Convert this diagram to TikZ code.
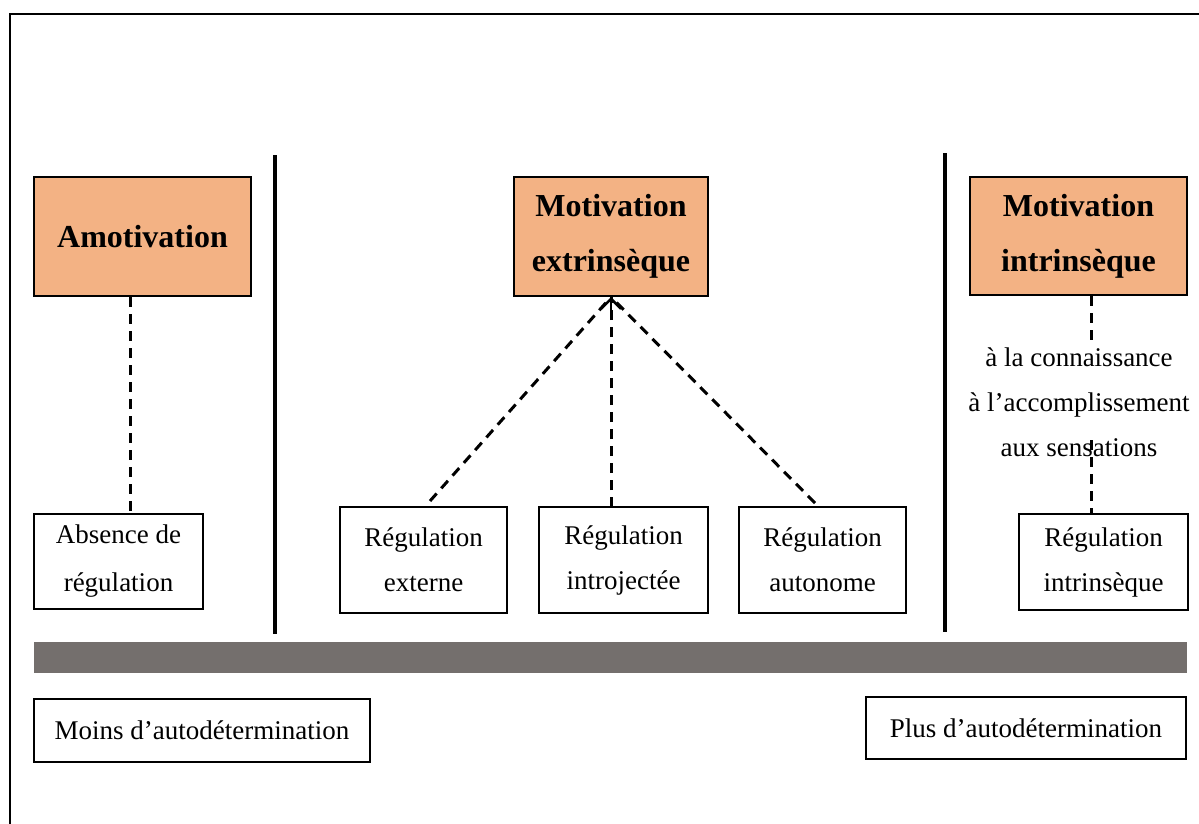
\documentclass[tikz,border=0pt]{standalone}
\usepackage{fontspec}
\setmainfont{Liberation Serif}
\usetikzlibrary{arrows.meta}
\definecolor{hdrfill}{RGB}{243,178,132}
\definecolor{barcol}{RGB}{116,111,109}
\tikzset{
  hdr/.style={draw=black, line width=2.6pt, fill=hdrfill, rectangle, align=center, inner sep=0pt,
    font=\fontsize{32}{55}\selectfont\bfseries},
  regbox/.style={draw=black, line width=2.6pt, fill=white, rectangle, align=center, inner sep=0pt,
    font=\fontsize{27}{45}\selectfont},
  plain/.style={align=center, inner sep=0pt, font=\fontsize{27}{45}\selectfont},
  dashline/.style={line width=3pt, dash pattern=on 10pt off 7pt},
  sepline/.style={line width=3.5pt},
}
\begin{document}
\begin{tikzpicture}[x=1pt,y=-1pt]
\useasboundingbox (0,0) rectangle (1199,824);
\path[clip] (0,0) rectangle (1199,824);
\fill[white] (0,0) rectangle (1199,824);
% outer frame
\draw[line width=2.6pt] (10,14) rectangle (1215,845);

% separators
\coordinate (s1t) at (275,155);
\coordinate (s1b) at (275,634);
\coordinate (s2t) at (945,153);
\coordinate (s2b) at (945,632);
\draw[sepline] (s1t) -- (s1b);
\draw[sepline] (s2t) -- (s2b);

% header boxes
\node[hdr, minimum width=217pt, minimum height=119pt] (amot) at (142.5,236.5) {Amotivation};
\node[hdr, minimum width=194pt, minimum height=119pt] (extr) at (611,236.5) {Motivation\\extrinsèque};
\node[hdr, minimum width=217pt, minimum height=118pt] (intr) at (1078.5,236) {Motivation\\intrinsèque};

% regulation boxes
\node[regbox, minimum width=169pt, minimum height=95pt] (absr) at (118.5,561.5) {\raisebox{-6pt}{\parbox{160pt}{\centering Absence de\\[3pt]régulation}}};
\node[regbox, minimum width=167pt, minimum height=106pt] (rext) at (423.5,560) {Régulation\\externe};
\node[regbox, minimum width=169pt, minimum height=106pt] (rint) at (623.5,560) {Régulation\\introjectée};
\node[regbox, minimum width=167pt, minimum height=106pt] (raut) at (822.5,560) {Régulation\\autonome};
\node[regbox, minimum width=169pt, minimum height=96pt] (rintr) at (1103.5,562) {Régulation\\intrinsèque};

% intrinsic text
\node[plain] (itext) at (1079,402) {à la connaissance\\à l’accomplissement\\aux sensations};

% connectors
\coordinate (ax) at (130,0);
\draw[dashline] (ax |- amot.south) -- (ax |- absr.north);

\coordinate (apex) at (611,297);
\coordinate (e1) at (430,501);
\coordinate (e2) at (611,507);
\coordinate (e3) at (815,503);
\draw[dashline] (e1) -- (apex);
\draw[dashline] (e3) -- (apex);
\draw[dashline] (e2) -- (apex);
\draw[line width=2.6pt, -{Straight Barb[length=10pt,width=20pt]}] (611,312) -- (apex);

\coordinate (ix) at (1091,0);
\coordinate (i1) at (1091,347);
\coordinate (i2) at (1091,440);
\draw[dashline] (ix |- intr.south) -- (i1);
\draw[dashline] (i2) -- (ix |- rintr.north);

% gradient bar
\fill[barcol] (34,642) rectangle (1187,673);

% bottom boxes
\node[regbox, minimum width=336pt, minimum height=63pt] (less) at (202,730.5) {Moins d’autodétermination};
\node[regbox, minimum width=320pt, minimum height=62pt] (more) at (1026,728) {Plus d’autodétermination};
\end{tikzpicture}
\end{document}
